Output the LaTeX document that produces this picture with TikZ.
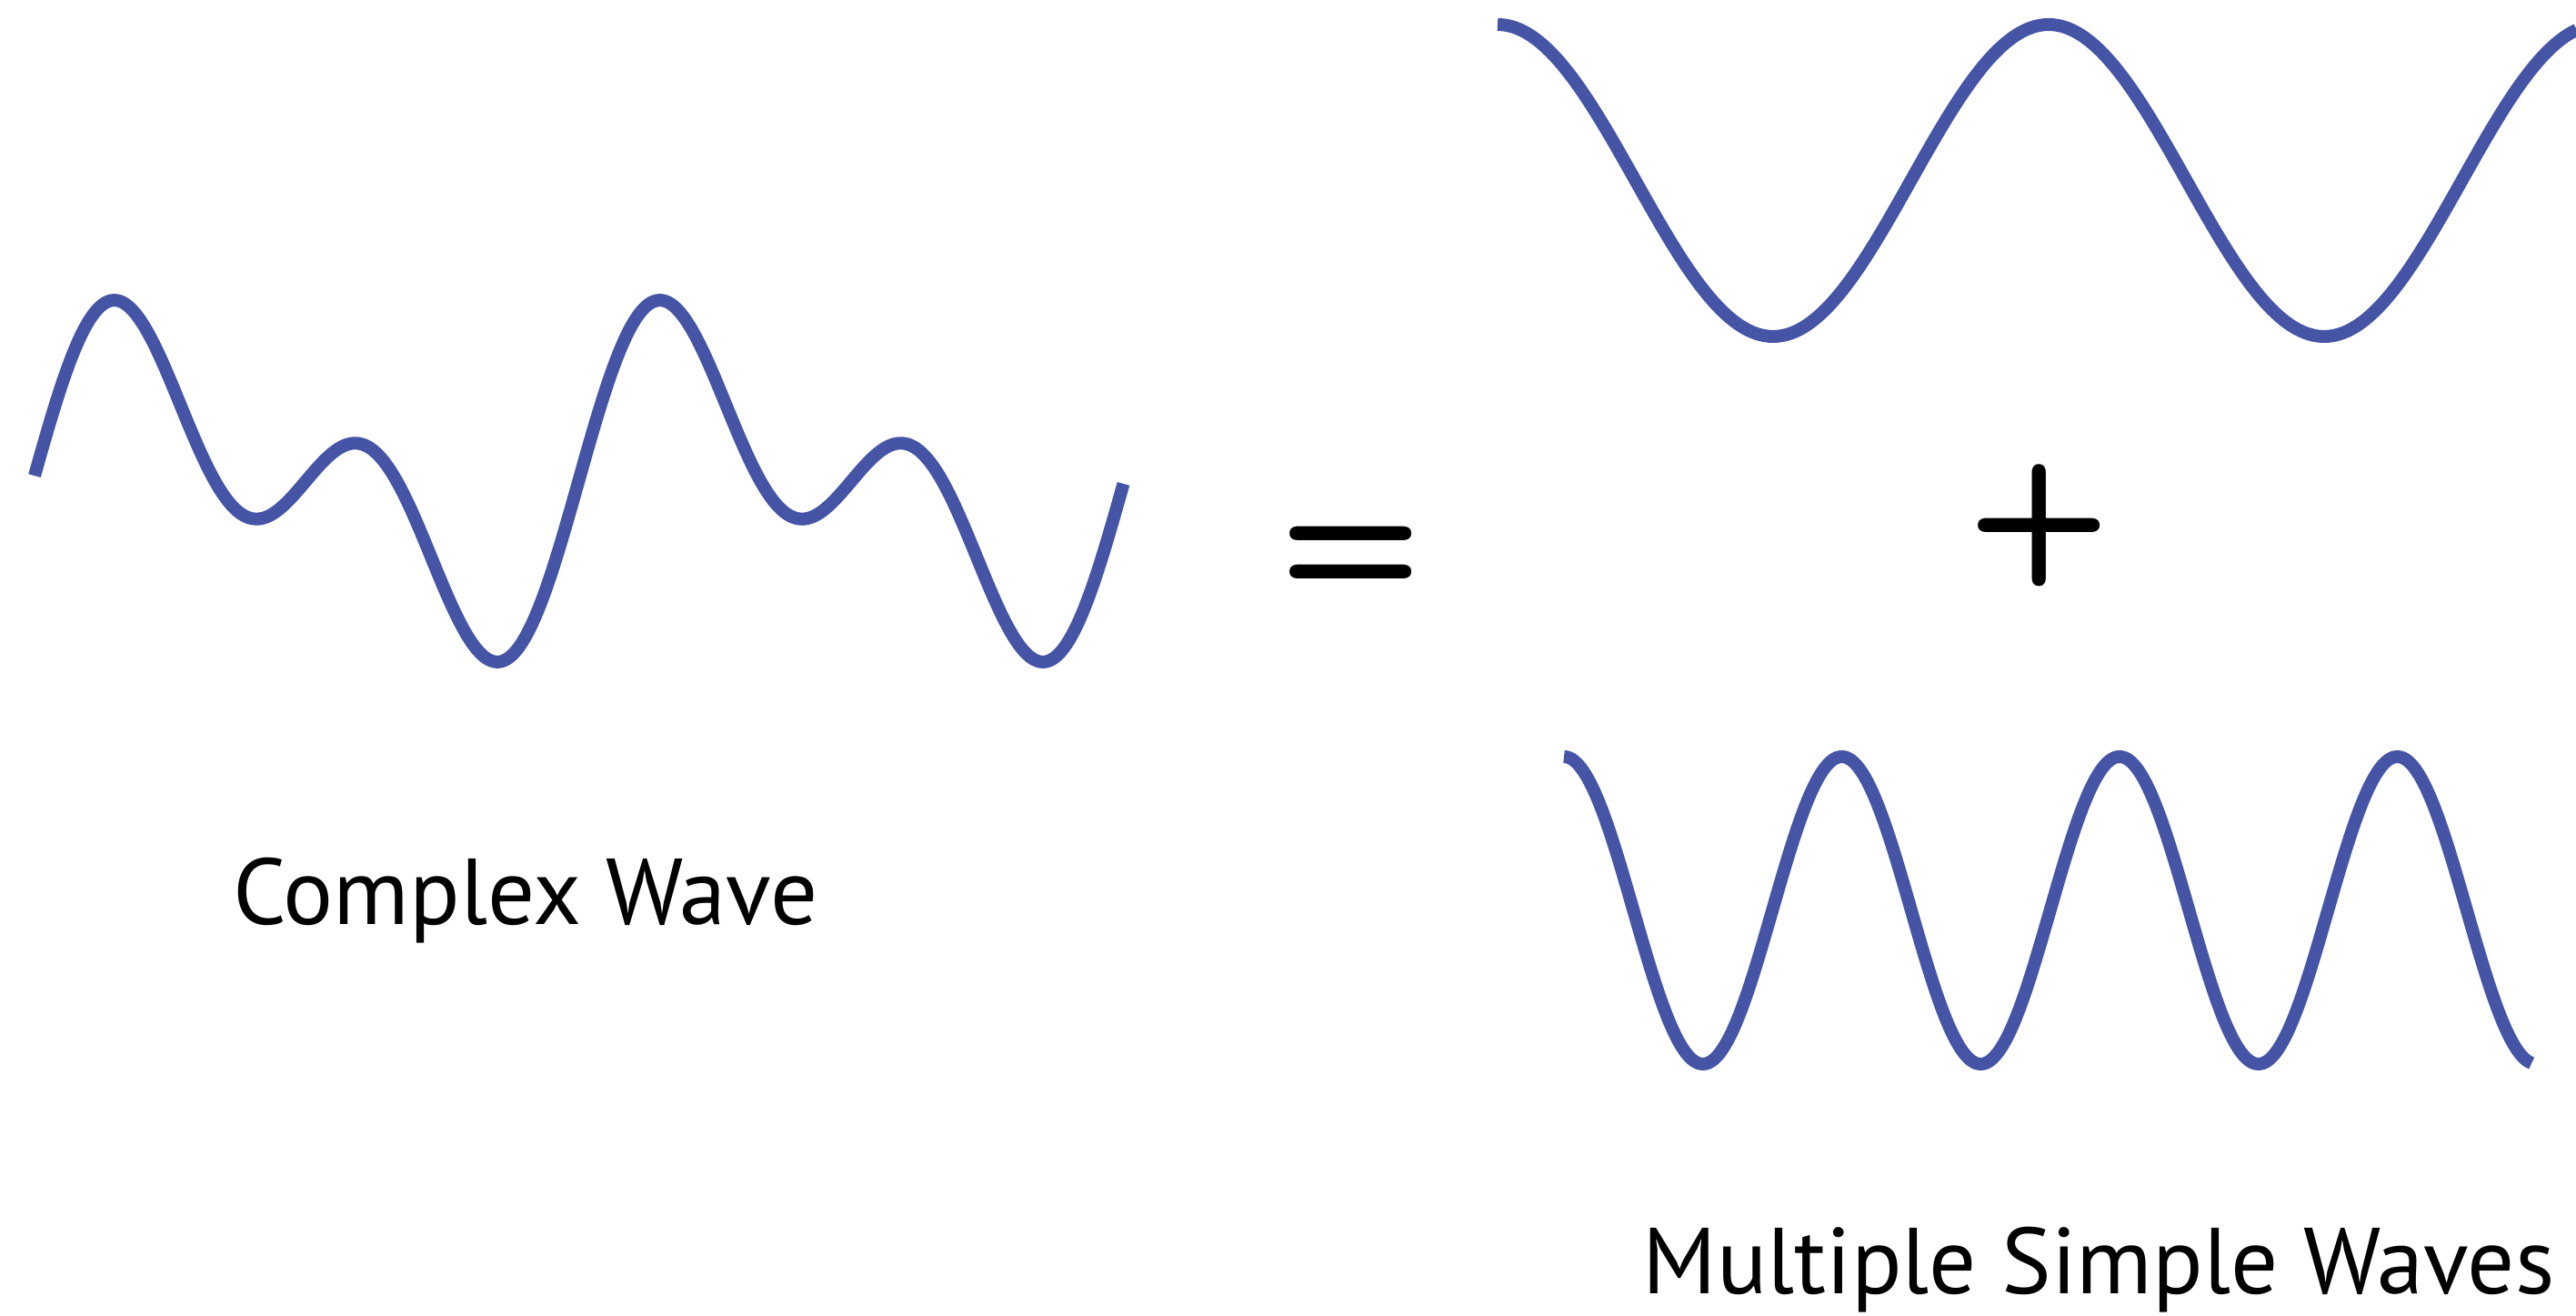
\documentclass[tikz,border=0pt]{standalone}
\usepackage{fontspec}
\setmainfont{PT Sans}
\definecolor{waveblue}{RGB}{70,84,165}

\begin{document}
\begin{tikzpicture}

    \tikzstyle{wave} = [draw=waveblue, line width=4pt, line join=round]
    \tikzstyle{caption} = [anchor=base, inner sep=0pt, font=\fontsize{29.3}{35}\selectfont]
    \tikzstyle{sign} = [anchor=base, inner sep=0pt, font=\sffamily\bfseries\fontsize{52}{60}\selectfont]

    \useasboundingbox (0,0) rectangle (28.33,14.47);

    % complex wave = fundamental + second harmonic
    \draw [wave] plot [smooth, domain=-89:629.5, samples=220] ({1.28+(\x+35)/60}, {9.18+1.13*(cos(\x)-sin(2*\x))});

    % the two simple waves
    \draw [wave] plot [smooth, domain=0:705, samples=160] ({16.47+6.06*\x/360}, {12.485+1.715*cos(\x)});
    \draw [wave] plot [smooth, domain=0:1254, samples=260] ({17.20+3.055*\x/360}, {4.46+1.69*cos(\x)});

    \node (equals) [sign] at (14.86,7.93) {=};
    \node (plus) [sign] at (22.43,8.23) {+};

    \node (complex) [caption] at (5.78,4.30) {Complex Wave};
    \node (simple) [caption] at (23.08,0.24) {Multiple Simple Waves};

\end{tikzpicture}
\end{document}
